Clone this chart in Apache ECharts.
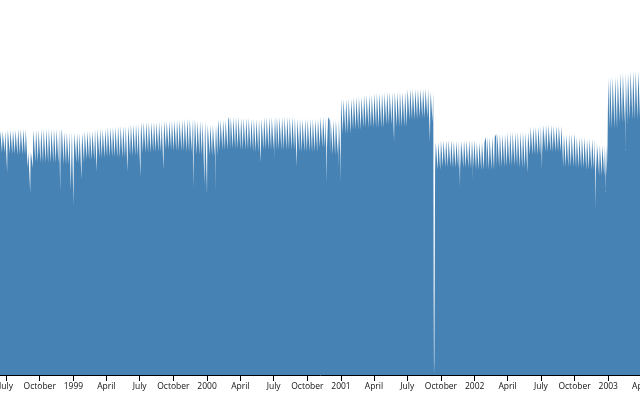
<!DOCTYPE html>
<html><head><meta charset="utf-8">
<script src="https://cdn.jsdelivr.net/npm/echarts@6/dist/echarts.min.js"></script>
<style>html,body{margin:0;padding:0;background:#fff}#c{width:640px;height:400px}</style>
</head><body><div id="c"></div>
<script>
// Daily flights: level segments (weekday peak, Sunday, Saturday low)
const segmentStarts = ['1998-06-01','1998-07-01','1998-08-01','1998-08-29','1998-09-13','1998-10-01','1998-11-01','1998-12-01',
  '1999-01-01','1999-02-01','1999-03-01','1999-04-01','1999-05-01','1999-06-01','1999-07-01','1999-08-01','1999-09-01','1999-10-01','1999-11-01','1999-12-01',
  '2000-01-01','2000-02-01','2000-03-01','2000-04-01','2000-05-01','2000-06-01','2000-07-01','2000-08-01','2000-09-01','2000-10-01','2000-11-01','2000-12-01',
  '2001-01-01','2001-02-01','2001-03-01','2001-04-01','2001-05-01','2001-06-01','2001-07-01','2001-08-01','2001-09-01','2001-09-15','2001-10-01','2001-11-01','2001-12-01',
  '2002-01-01','2002-02-01','2002-03-01','2002-04-01','2002-05-01','2002-06-01','2002-07-01','2002-08-01','2002-09-01','2002-10-01','2002-11-01','2002-12-01',
  '2003-01-01','2003-02-01','2003-03-01'];
const weekdayFlights = [14640,14700,14760,13380,14700,14760,14760,14580,
  14520,14640,14760,14880,14940,15060,15180,15180,15240,15300,15360,15240,
  15000,15300,15480,15420,15360,15480,15480,15480,15360,15360,15480,15300,
  16560,16680,16800,16920,16980,16980,17160,17160,16980,13980,14100,14040,14100,
  13980,14280,14460,14580,14580,14880,15000,14940,14460,14280,14160,13800,
  17880,18120,18240];
const sundayFlights = [14050,14050,14060,12950,13840,13840,13840,13690,
  13710,13860,13980,14070,14080,14200,14340,14370,14460,14460,14470,14320,
  14160,14490,14620,14560,14470,14590,14590,14590,14470,14470,14640,14360,
  15620,15790,15910,15980,16090,16040,16320,16380,16170,13220,13370,13310,13340,
  13220,13390,13570,13660,13610,14120,14270,14240,13570,13440,13320,12960,
  16480,16770,16920];
const saturdayFlights = [13320,13260,13200,12420,12780,12720,12720,12600,
  12720,12900,13020,13080,13020,13140,13320,13380,13500,13440,13380,13200,
  13140,13500,13560,13500,13380,13500,13500,13500,13380,13380,13620,13200,
  14460,14700,14820,14820,15000,14880,15300,15420,15180,12300,12480,12420,12420,
  12300,12300,12480,12540,12420,13200,13380,13380,12480,12420,12300,11940,
  14760,15120,15300];
// Individual days that stand out (holidays, storms, 9/11)
const specialDates = ['1998-07-04','1998-09-05','1998-11-26','1998-12-25','1999-01-01','1999-01-23','1999-03-06','1999-05-29','1999-07-03',
  '1999-09-04','1999-11-25','1999-12-25','2000-01-01','2000-01-25','2000-05-27','2000-07-04','2000-09-02','2000-11-23','2000-12-25','2000-12-31',
  '2001-05-26','2001-09-01','2001-09-11','2001-09-12','2001-09-13','2001-09-14','2001-11-22','2001-12-25',
  '2002-05-25','2002-07-04','2002-08-31','2002-11-28','2002-12-25','2003-02-17'];
const specialFlights = [12120,10920,10980,11100,10200,11700,12180,12180,11880,
  12300,11220,11400,10800,10980,12720,12900,12480,11520,12420,11520,
  13980,13980,5000,0,900,6000,11280,11700,
  12120,12300,12480,10080,10980,13500];
const firstDay = '1998-06-01';
const lastDay = '2003-04-10';
// Axis ticks
const tickDates = ['1998-07-01','1998-10-01','1999-01-01','1999-04-01','1999-07-01','1999-10-01','2000-01-01','2000-04-01','2000-07-01','2000-10-01',
  '2001-01-01','2001-04-01','2001-07-01','2001-10-01','2002-01-01','2002-04-01','2002-07-01','2002-10-01','2003-01-01','2003-04-01'];
const tickLabels = ['July','October','1999','April','July','October','2000','April','July','October',
  '2001','April','July','October','2002','April','July','October','2003','April'];

const special = {};
specialDates.forEach((d, i) => { special[d] = specialFlights[i]; });
const pad = n => (n < 10 ? '0' : '') + n;
const toTime = s => new Date(s).getTime();
const data = [];
let seg = 0;
const endT = Date.UTC(+lastDay.slice(0,4), +lastDay.slice(5,7)-1, +lastDay.slice(8,10));
for (let t = Date.UTC(+firstDay.slice(0,4), +firstDay.slice(5,7)-1, +firstDay.slice(8,10)); t <= endT; t += 86400000) {
  const d = new Date(t);
  const s = d.getUTCFullYear() + '-' + pad(d.getUTCMonth()+1) + '-' + pad(d.getUTCDate());
  while (seg + 1 < segmentStarts.length && s >= segmentStarts[seg+1]) seg++;
  const wd = d.getUTCDay();
  let v = wd === 6 ? saturdayFlights[seg] : (wd === 0 ? sundayFlights[seg] : weekdayFlights[seg]);
  if (special[s] !== undefined) v = special[s];
  data.push([toTime(s + 'T00:00:00'), v]);
}
const tickTimes = tickDates.map(d => toTime(d + 'T00:00:00'));
const labelOf = {};
tickTimes.forEach((t, i) => { labelOf[t] = tickLabels[i]; });

const chart = echarts.init(document.getElementById('c'), null, {renderer: 'canvas'});
chart.setOption({
  animation: false,
  grid: {left: 0, right: -1.2, top: 0, bottom: 25, containLabel: false, outerBoundsMode: 'none'},
  xAxis: {
    type: 'value',
    min: toTime('1998-06-14T12:00:00'),
    max: toTime('2003-04-01T00:00:00'),
    z: 10,
    axisLine: {show: true, lineStyle: {color: '#000', width: 1}},
    axisTick: {show: true, customValues: tickTimes, length: 6, lineStyle: {color: '#000'}},
    axisLabel: {customValues: tickTimes, formatter: v => labelOf[v] || '', color: '#111', fontSize: 8.5,
      fontFamily: 'Open Sans', margin: 7.5, hideOverlap: false, showMinLabel: true, showMaxLabel: true},
    splitLine: {show: false}
  },
  yAxis: {type: 'value', min: 0, max: 22500, show: false},
  series: [{
    type: 'line', data: data, showSymbol: false, symbol: 'none',
    lineStyle: {width: 0}, areaStyle: {color: '#4682b4', opacity: 1},
    itemStyle: {color: '#4682b4'}
  }]
});
</script></body></html>
